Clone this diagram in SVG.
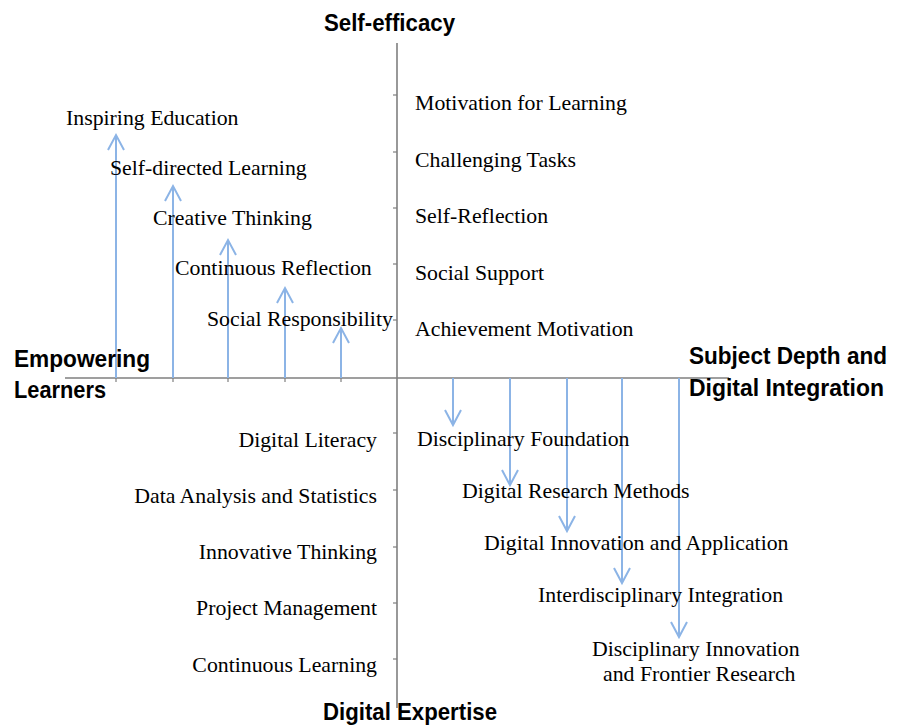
<svg xmlns="http://www.w3.org/2000/svg" width="901" height="725" viewBox="0 0 901 725">
<defs>
<marker id="ah" viewBox="-16 -9 18 18" refX="0" refY="0" markerWidth="18" markerHeight="18" markerUnits="userSpaceOnUse" orient="auto" overflow="visible">
<path d="M-15,-8 L0,0 L-15,8" fill="none" stroke="#8CB4E6" stroke-width="2"/>
</marker>
<style>
.lbl{font-family:"Liberation Serif","Times New Roman",serif;font-size:21.8px;fill:#000}
.hdr{font-family:"Liberation Sans",Arial,sans-serif;font-weight:bold;font-size:24px;fill:#000}
.axis{stroke:#7f7f7f;stroke-width:1.6;fill:none}
.tick{stroke:#7f7f7f;stroke-width:1.2}
.arr{stroke:#8CB4E6;stroke-width:2;fill:none;marker-end:url(#ah)}
</style>
</defs>
<rect width="901" height="725" fill="#fff"/>
<g id="axes">
<line class="axis" x1="397" y1="43" x2="397" y2="708"/>
<line class="axis" x1="65" y1="378" x2="729" y2="378"/>
<g class="tick">
<line x1="393" y1="95" x2="397" y2="95"/><line x1="393" y1="152" x2="397" y2="152"/><line x1="393" y1="208" x2="397" y2="208"/><line x1="393" y1="264" x2="397" y2="264"/><line x1="393" y1="320" x2="397" y2="320"/>
<line x1="393" y1="433" x2="397" y2="433"/><line x1="393" y1="490" x2="397" y2="490"/><line x1="393" y1="547" x2="397" y2="547"/><line x1="393" y1="603" x2="397" y2="603"/><line x1="393" y1="659" x2="397" y2="659"/>
<line x1="116" y1="378" x2="116" y2="382"/><line x1="173" y1="378" x2="173" y2="382"/><line x1="228" y1="378" x2="228" y2="382"/><line x1="285" y1="378" x2="285" y2="382"/><line x1="341" y1="378" x2="341" y2="382"/>
<line x1="453" y1="378" x2="453" y2="382"/><line x1="510" y1="378" x2="510" y2="382"/><line x1="567" y1="378" x2="567" y2="382"/><line x1="622" y1="378" x2="622" y2="382"/><line x1="679" y1="378" x2="679" y2="382"/>
</g>
</g>
<g id="connectors">
<line class="arr" x1="116" y1="378" x2="116" y2="135"/>
<line class="arr" x1="173" y1="378" x2="173" y2="186"/>
<line class="arr" x1="228" y1="378" x2="228" y2="240"/>
<line class="arr" x1="285" y1="378" x2="285" y2="288"/>
<line class="arr" x1="341" y1="378" x2="341" y2="328"/>
<line class="arr" x1="453" y1="378" x2="453" y2="425"/>
<line class="arr" x1="510" y1="378" x2="510" y2="485"/>
<line class="arr" x1="567" y1="378" x2="567" y2="531"/>
<line class="arr" x1="622" y1="378" x2="622" y2="583"/>
<line class="arr" x1="679" y1="378" x2="679" y2="637"/>
</g>
<g id="h-self-efficacy"><text class="hdr" x="324" y="31" textLength="131" lengthAdjust="spacingAndGlyphs">Self-efficacy</text></g>
<g id="h-empowering"><text class="hdr" x="14" y="367" textLength="136" lengthAdjust="spacingAndGlyphs">Empowering</text><text class="hdr" x="14" y="398" textLength="92" lengthAdjust="spacingAndGlyphs">Learners</text></g>
<g id="h-subject"><text class="hdr" x="689" y="364" textLength="198" lengthAdjust="spacingAndGlyphs">Subject Depth and</text><text class="hdr" x="689" y="396" textLength="195" lengthAdjust="spacingAndGlyphs">Digital Integration</text></g>
<g id="h-digital-expertise"><text class="hdr" x="323" y="720" textLength="174" lengthAdjust="spacingAndGlyphs">Digital Expertise</text></g>
<g id="n-inspiring"><text class="lbl" x="66" y="125">Inspiring Education</text></g>
<g id="n-selfdirected"><text class="lbl" x="110" y="175">Self-directed Learning</text></g>
<g id="n-creative"><text class="lbl" x="153" y="225">Creative Thinking</text></g>
<g id="n-continuous-reflection"><text class="lbl" x="175" y="275">Continuous Reflection</text></g>
<g id="n-social-resp"><text class="lbl" x="207" y="326">Social Responsibility</text></g>
<g id="n-motivation"><text class="lbl" x="415" y="110">Motivation for Learning</text></g>
<g id="n-challenging"><text class="lbl" x="415" y="167">Challenging Tasks</text></g>
<g id="n-selfreflection"><text class="lbl" x="415" y="223">Self-Reflection</text></g>
<g id="n-socialsupport"><text class="lbl" x="415" y="280">Social Support</text></g>
<g id="n-achievement"><text class="lbl" x="415" y="336">Achievement Motivation</text></g>
<g id="n-digital-literacy"><text class="lbl" x="377" y="447" text-anchor="end">Digital Literacy</text></g>
<g id="n-data-analysis"><text class="lbl" x="377" y="503" text-anchor="end">Data Analysis and Statistics</text></g>
<g id="n-innovative"><text class="lbl" x="377" y="559" text-anchor="end">Innovative Thinking</text></g>
<g id="n-project"><text class="lbl" x="377" y="615" text-anchor="end">Project Management</text></g>
<g id="n-continuous-learning"><text class="lbl" x="377" y="672" text-anchor="end">Continuous Learning</text></g>
<g id="n-disc-foundation"><text class="lbl" x="417" y="446">Disciplinary Foundation</text></g>
<g id="n-digital-research"><text class="lbl" x="462" y="498">Digital Research Methods</text></g>
<g id="n-digital-innovation"><text class="lbl" x="484" y="550">Digital Innovation and Application</text></g>
<g id="n-interdisciplinary"><text class="lbl" x="538" y="602">Interdisciplinary Integration</text></g>
<g id="n-frontier"><text class="lbl" x="592" y="656">Disciplinary Innovation</text><text class="lbl" x="603" y="681">and Frontier Research</text></g>
</svg>
